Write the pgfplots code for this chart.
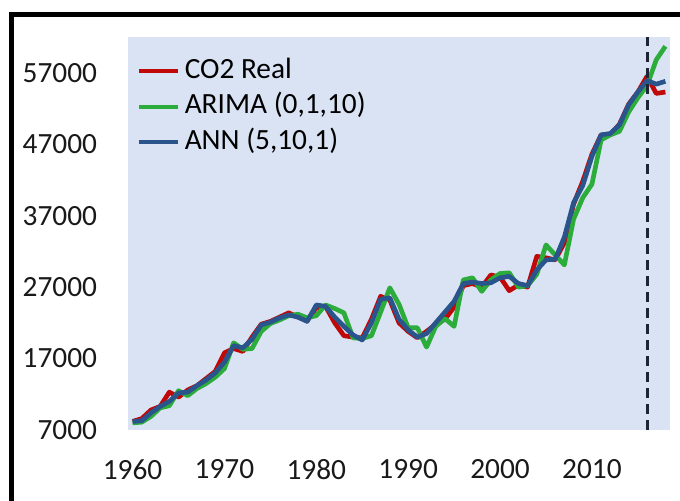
\documentclass[border=0pt]{standalone}
\usepackage{pgfplots}
\pgfplotsset{compat=1.18}
\usepackage{pgfplotstable}
\usepackage{fontspec}
\setmainfont{Carlito}
\definecolor{realred}{RGB}{192,8,8}
\definecolor{arimagreen}{RGB}{44,172,58}
\definecolor{annblue}{RGB}{42,84,140}
\definecolor{bgblue}{RGB}{218,227,243}
\definecolor{dashcol}{RGB}{30,36,52}
\pgfplotstableread{
year real arima ann
1960 8200 8000 8200
1961 8600 8100 8300
1962 9800 8900 9400
1963 10300 10100 10300
1964 12300 10400 11000
1965 11600 12500 12200
1966 12600 11800 12300
1967 13200 12800 13200
1968 14200 13500 14000
1969 15200 14400 15000
1970 17800 15600 16500
1971 18400 19200 18800
1972 18000 18300 18500
1973 20000 18400 19700
1974 21800 20800 21700
1975 22200 21900 22100
1976 22800 22400 22700
1977 23400 23000 23100
1978 22800 23200 22800
1979 22300 22700 22200
1980 24100 23000 24500
1981 24300 24500 24300
1982 22000 24000 22800
1983 20200 23400 21500
1984 20000 19900 20300
1985 19900 19800 19600
1986 22500 20200 22000
1987 25700 23500 25300
1988 25200 26900 25500
1989 22000 24600 22500
1990 20800 21300 21000
1991 19900 21300 20000
1992 20800 18600 20500
1993 21800 21500 22000
1994 22500 22600 23500
1995 24200 21500 25000
1996 27200 28000 27500
1997 27500 28300 27700
1998 27000 26400 27500
1999 28700 28000 27600
2000 28400 28900 28300
2001 26500 29000 28500
2002 27300 27000 27500
2003 27000 27200 27200
2004 31300 28800 29400
2005 31100 32900 30800
2006 30800 31500 30900
2007 33200 30100 34000
2008 38600 36500 38800
2009 41800 39500 41200
2010 45600 41400 45300
2011 48300 47600 48300
2012 48300 48300 48500
2013 49800 48800 49700
2014 52600 51500 52500
2015 54300 53500 54300
2016 56500 55200 55900
2017 54100 58800 55400
2018 54300 60700 55800
}\co
\begin{document}
\begin{tikzpicture}
\useasboundingbox (0,0) rectangle (510pt,375pt);
\draw[line width=3.75pt, black] (8.25pt,-30pt) -- (8.25pt,364.1pt) -- (540pt,364.1pt);
\begin{axis}[
  at={(96pt,52.5pt)}, anchor=south west,
  scale only axis, width=406.5pt, height=294.75pt,
  xmin=1959.5, xmax=2018.5, ymin=7000, ymax=62000,
  xtick={1960,1970,...,2010},
  ytick={7000,17000,...,57000},
  scaled y ticks=false, scaled x ticks=false,
  axis background/.style={fill=bgblue},
  axis line style={draw=none},
  tick style={draw=none},
  major tick length=0pt,
  /pgf/number format/assume math mode=true,
  /pgf/number format/1000 sep={},
  /pgf/number format/fixed,
  tick label style={font=\fontsize{22}{26}\selectfont, text=black!90},
  yticklabel style={anchor=east, inner sep=0pt, xshift=-23pt},
  xticklabel style={anchor=north, inner sep=0pt, yshift=-22pt},
  legend style={draw=none, fill=none, at={(0.0165,0.950)}, anchor=north west,
    font=\fontsize{22}{26}\selectfont, row sep=5.8pt, column sep=0pt,
    inner sep=0pt,
    nodes={text height=16pt, text depth=5pt, inner sep=0pt}},
  legend cell align=left,
  legend image code/.code={\draw[#1, line width=3pt] (0pt,0pt) -- (29pt,0pt);},
  line join=round,
]
\addplot[realred, line width=3.5pt] table[x=year, y=real] {\co};
\addlegendentry{\,CO2 Real}
\addplot[arimagreen, line width=3.5pt] table[x=year, y=arima] {\co};
\addlegendentry{\,ARIMA (0,1,10)}
\addplot[annblue, line width=3.5pt] table[x=year, y=ann] {\co};
\addlegendentry{\,ANN (5,10,1)}
\addplot[dashcol, line width=2.25pt, dash pattern=on 7.5pt off 4.5pt, forget plot] coordinates {(2016,7000) (2016,62000)};
\end{axis}
\end{tikzpicture}
\end{document}
